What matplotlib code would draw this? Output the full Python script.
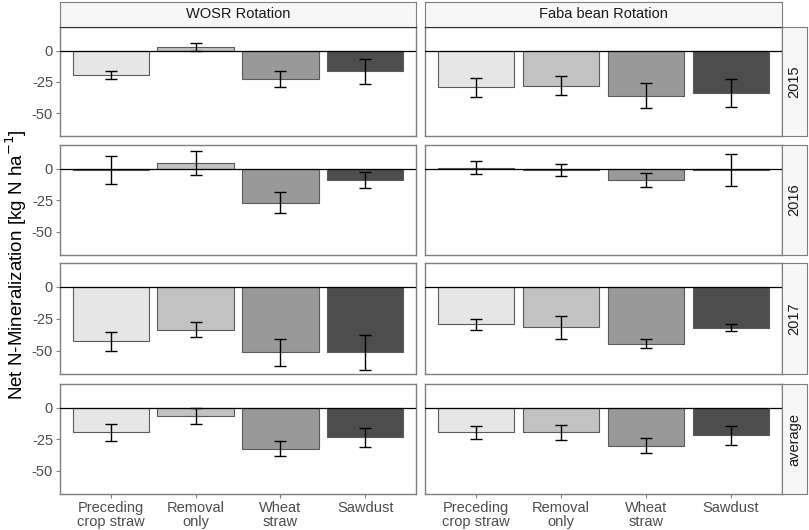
import matplotlib.pyplot as plt

plt.rcParams['font.family'] = ['Liberation Sans', 'DejaVu Sans']

treatments = ['Preceding\ncrop straw', 'Removal\nonly', 'Wheat\nstraw', 'Sawdust']
rotations = ['WOSR Rotation', 'Faba bean Rotation']
years = ['2015', '2016', '2017', 'average']
bar_colors = ['#E6E6E6', '#C2C2C2', '#999999', '#4D4D4D']

# mean net N-mineralization, per year, per rotation
wosr_mean = [
    [-19.4, 2.9, -22.5, -16.6],
    [-1.0, 4.4, -27.0, -8.9],
    [-42.7, -33.5, -51.0, -51.0],
    [-19.5, -6.7, -32.4, -23.4],
]
wosr_err = [
    [3.3, 3.2, 6.3, 9.7],
    [11.0, 9.7, 8.3, 6.2],
    [7.2, 6.0, 10.6, 13.7],
    [6.8, 6.2, 5.8, 7.4],
]
faba_mean = [
    [-29.4, -28.0, -36.0, -33.7],
    [1.0, -1.0, -8.7, -1.0],
    [-29.4, -31.5, -44.4, -32.0],
    [-19.4, -19.4, -30.0, -21.7],
]
faba_err = [
    [7.5, 7.3, 10.2, 11.2],
    [4.8, 4.6, 5.5, 12.6],
    [4.2, 8.9, 3.6, 2.8],
    [5.3, 5.8, 6.0, 7.5],
]

W, H = 809, 530
fig = plt.figure(figsize=(W / 100, H / 100), dpi=100)

col_x = [(60, 416), (425, 782)]
row_y = [(27, 136), (145, 255), (263, 374), (384, 494)]
edge = '#7F7F7F'


def px_axes(x0, x1, y0, y1):
    return fig.add_axes([x0 / W, 1 - y1 / H, (x1 - x0) / W, (y1 - y0) / H])


for c, (means, errs) in enumerate([(wosr_mean, wosr_err), (faba_mean, faba_err)]):
    x0, x1 = col_x[c]
    for r in range(4):
        y0, y1 = row_y[r]
        ax = px_axes(x0, x1, y0, y1)
        xs = range(1, 5)
        ax.bar(xs, means[r], width=0.9, color=bar_colors, edgecolor='#5A5A5A',
               linewidth=0.8, zorder=2)
        ax.axhline(0, color='black', linewidth=0.9, zorder=3)
        ax.errorbar(xs, means[r], yerr=errs[r], fmt='none', ecolor='black',
                    elinewidth=1.0, capsize=4.4, capthick=1.0, zorder=4)
        ax.set_xlim(0.4, 4.6)
        ax.set_ylim(-68.2, 18.8)
        ax.set_yticks([0, -25, -50])
        ax.set_xticks(list(xs))
        for s in ax.spines.values():
            s.set_color(edge)
            s.set_linewidth(1.0)
        ax.tick_params(colors=edge, labelcolor='#4D4D4D', labelsize=10.5,
                       length=3, width=0.8, pad=2)
        if c == 0:
            ax.set_yticklabels(['0', '-25', '-50'])
        else:
            ax.set_yticklabels([])
            ax.tick_params(axis='y', length=0)
        if r == 3:
            ax.set_xticklabels(treatments, linespacing=1.05)
        else:
            ax.set_xticklabels([])
            ax.tick_params(axis='x', length=0)

    # column strip
    sax = px_axes(x0, x1, 2, 27)
    sax.set_xticks([])
    sax.set_yticks([])
    sax.set_facecolor('#F7F7F7')
    for s in sax.spines.values():
        s.set_color(edge)
    sax.spines['bottom'].set_color('#333333')
    sax.text(0.5, 0.5, rotations[c], ha='center', va='center', fontsize=10.5,
             color='#1A1A1A', transform=sax.transAxes)

# row strips
for r in range(4):
    y0, y1 = row_y[r]
    sax = px_axes(782, 807, y0, y1)
    sax.set_xticks([])
    sax.set_yticks([])
    sax.set_facecolor('#F7F7F7')
    for s in sax.spines.values():
        s.set_color(edge)
    sax.text(0.5, 0.5, years[r], ha='center', va='center', rotation=90,
             fontsize=10.5, color='#1A1A1A', transform=sax.transAxes)

fig.text(16 / W, 1 - 265 / H, 'Net N-Mineralization [kg N ha$^{-1}$]',
         rotation=90, ha='center', va='center', fontsize=13.5)

fig.savefig('out.png', dpi=100)
